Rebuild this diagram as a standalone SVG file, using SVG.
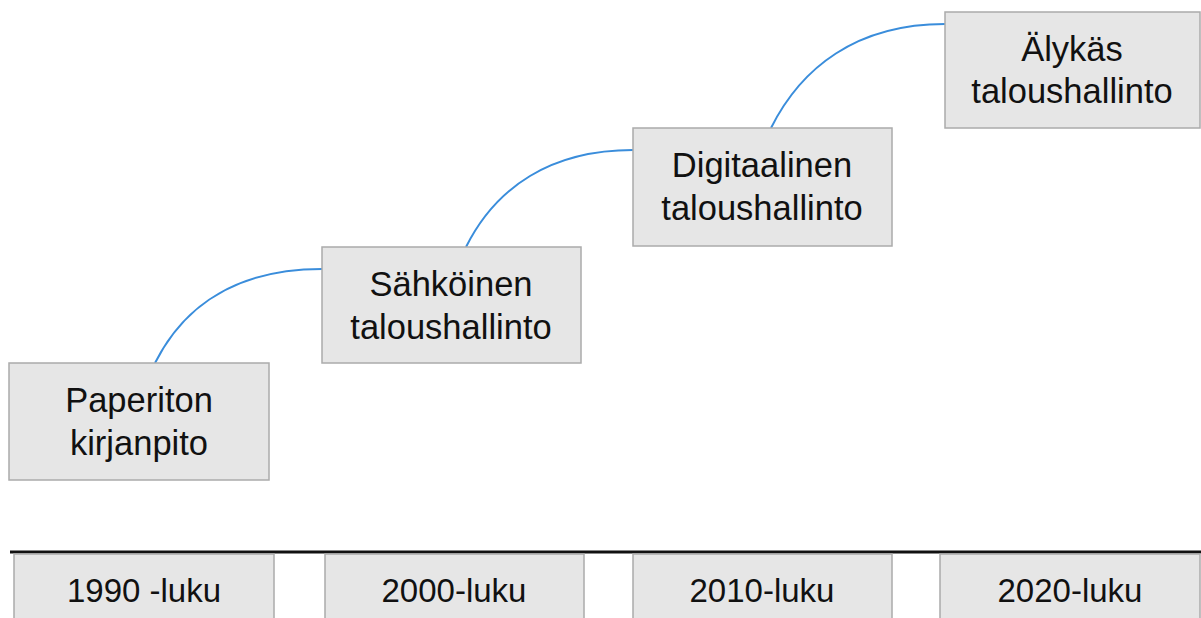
<svg xmlns="http://www.w3.org/2000/svg" width="1201" height="618" viewBox="0 0 1201 618">
<style>
.box{fill:#e6e6e6;stroke:#ababab;stroke-width:1.5}
.t{font-family:"Liberation Sans",Arial,sans-serif;font-size:34.5px;fill:#111;text-anchor:middle}
.y{font-family:"Liberation Sans",Arial,sans-serif;font-size:33px;fill:#111;text-anchor:middle}
.c{fill:none;stroke:#3a8ddb;stroke-width:2}
</style>
<rect width="1201" height="618" fill="#fff"/>
<g id="connectors">
<path class="c" d="M155,363 C185,303 240,269 322,269"/>
<path class="c" d="M466,247 C496,187 551,150 633,150"/>
<path class="c" d="M771,128 C801,68 856,24 945,24"/>
</g>
<g id="node-paperiton">
<rect class="box" x="9" y="363" width="260" height="117"/>
<text class="t" x="139" y="412">Paperiton</text>
<text class="t" x="139" y="455">kirjanpito</text>
</g>
<g id="node-sahkoinen">
<rect class="box" x="322" y="247" width="259" height="116"/>
<text class="t" x="451" y="296">Sähköinen</text>
<text class="t" x="451" y="339">taloushallinto</text>
</g>
<g id="node-digitaalinen">
<rect class="box" x="633" y="128" width="259" height="118"/>
<text class="t" x="762" y="177">Digitaalinen</text>
<text class="t" x="762" y="220">taloushallinto</text>
</g>
<g id="node-alykas">
<rect class="box" x="945" y="12" width="255" height="116"/>
<text class="t" x="1072" y="61">Älykäs</text>
<text class="t" x="1072" y="103">taloushallinto</text>
</g>
<g id="timeline">
<line x1="10" y1="552" x2="1201" y2="552" stroke="#111" stroke-width="3"/>
</g>
<g id="node-1990">
<rect class="box" x="14" y="554" width="260" height="70"/>
<text class="y" x="144" y="602">1990 -luku</text>
</g>
<g id="node-2000">
<rect class="box" x="325" y="554" width="259" height="70"/>
<text class="y" x="454" y="602">2000-luku</text>
</g>
<g id="node-2010">
<rect class="box" x="633" y="554" width="259" height="70"/>
<text class="y" x="762" y="602">2010-luku</text>
</g>
<g id="node-2020">
<rect class="box" x="940" y="554" width="260" height="70"/>
<text class="y" x="1070" y="602">2020-luku</text>
</g>
</svg>
